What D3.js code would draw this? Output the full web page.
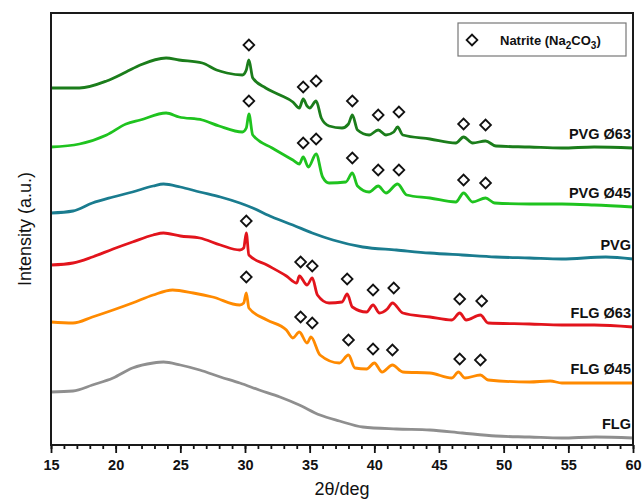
<!DOCTYPE html>
<html>
<head>
<meta charset="utf-8">
<script src="https://cdn.jsdelivr.net/npm/d3@7"></script>
<style>
  html, body { margin: 0; padding: 0; background: #ffffff; }
  svg { display: block; font-family: Arial, "Liberation Sans", sans-serif; }
</style>
</head>
<body>
<svg id="chart" width="643" height="500"></svg>
<script>
// XRD patterns, stacked with vertical offsets (2θ in degrees, intensity in a.u.)
const seriesNames = ["PVG Ø63", "PVG Ø45", "PVG", "FLG Ø63", "FLG Ø45", "FLG"];
const seriesColors = ["#1b7d1b", "#1fc31f", "#1a7c8f", "#e2141c", "#ff8a00", "#8f8f8f"];

const pvg63 = [[15,357],[17.2,357],[19.3,364],[20.8,373],[21.9,380],[23.9,387],[24.9,385],[26.7,382],[27.8,375],[28.6,372],[29.8,370],[30.1,375],[30.3,385],[30.6,367],[31.6,357],[32.7,350],[33.7,343],[34.2,337],[34.5,346],[34.8,339],[35.0,337],[35.5,344],[35.9,327],[36.5,319],[37.5,317],[38.0,321],[38.3,330],[38.7,315],[39.6,310],[40.3,315],[40.9,310],[41.5,313],[41.8,318],[42.2,310],[44.3,306],[46.3,302],[46.9,308],[47.6,302],[48.6,304],[49.4,299],[52,298],[54.5,297],[57,298],[60,297]];
const pvg45 = [[15,298],[17.2,301],[19.3,310],[20.8,321],[21.9,325],[23.9,332],[24.9,328],[26.7,325],[28,319],[29.8,313],[30.1,317],[30.3,331],[30.6,310],[32.1,297],[33.7,285],[34.2,281],[34.5,288],[34.9,278],[35.5,291],[36,268],[36.5,262],[37.8,263],[38.3,272],[38.7,259],[39.6,253],[40.3,259],[40.9,252],[41.8,261],[42.5,250],[44.3,247],[46.3,243],[46.9,252],[47.6,243],[48.6,247],[49.3,242],[52,241],[54.5,241],[57,240],[60,238]];
const pvg = [[15,232],[16.7,234],[18.2,242],[19.8,248],[21.3,253],[22.9,259],[23.7,261],[25,258],[26.5,253],[28.1,248],[29.6,242],[30.6,237],[32.1,228],[33.7,220],[35.2,212],[36.8,205],[39.1,198],[41.7,195],[44.3,192],[46.8,190],[49.4,188],[52,187],[54.5,186],[57.9,188],[60,186]];
const flg63 = [[15,180],[16.7,182],[18.2,188],[19.8,196],[21.3,203],[22.9,210],[23.7,212],[25,209],[26.5,207],[28.1,200],[29.6,195],[29.9,197],[30.1,212],[30.3,190],[31.7,180],[33.2,169],[34,162],[34.2,169],[34.8,160],[35.2,167],[35.6,150],[36.5,142],[37.5,143],[37.9,151],[38.3,138],[39.4,133],[39.9,140],[40.4,132],[41.0,136],[41.4,142],[42.2,132],[44.3,128],[46,125],[46.6,132],[47.1,125],[48.2,130],[48.8,122],[52,121],[54.5,120],[57,120],[60,118]];
const flg45 = [[15,123],[16.7,122],[18.2,128],[19.8,135],[21.3,142],[22.9,150],[24.4,155],[26,152],[27.5,148],[29.6,140],[29.9,142],[30.1,152],[30.3,137],[31.7,125],[33.2,115],[33.7,107],[34.2,113],[34.8,102],[35.1,108],[35.8,90],[37.3,82],[38,90],[38.5,77],[39.4,76],[40,82],[40.6,73],[41.4,80],[42.2,73],[44.3,72],[46,67],[46.5,73],[47,67],[48.2,70],[48.8,65],[52,63],[53.6,64],[54.5,62],[57,62],[60,62]];
const flg = [[15,53],[16.7,54],[18.2,60],[19.8,67],[21.3,77],[22.9,82],[23.7,83],[25,80],[26.5,75],[28.1,68],[29.6,62],[31.1,55],[32.7,48],[34.2,40],[35.8,30],[37.3,24],[39.1,18],[41.7,16],[44.3,15],[46.8,12],[49.4,9],[52,8],[54.5,7],[57.1,8],[60,7]];
const seriesData = [pvg63, pvg45, pvg, flg63, flg45, flg];

// Natrite (Na2CO3) reflection markers, [2θ, intensity]
const natritePVG63 = [[30.3,400],[34.5,358],[35.5,364],[38.3,344],[40.3,330],[41.9,333],[46.9,321],[48.6,320]];
const natritePVG45 = [[30.3,344],[34.5,302],[35.5,306],[38.3,287],[40.3,275],[41.9,275],[46.9,265],[48.6,262]];
const natriteFLG63 = [[30.1,224],[34.3,183],[35.2,179],[37.9,166],[39.9,155],[41.5,157],[46.6,146],[48.3,144]];
const natriteFLG45 = [[30.1,168],[34.3,128],[35.2,122],[38.0,105],[39.9,96],[41.4,95],[46.6,86],[48.2,85]];
const natriteMarks = [natritePVG63, natritePVG45, natriteFLG63, natriteFLG45];

const xMajorTicks = [15, 20, 25, 30, 35, 40, 45, 50, 55, 60];
const xMinorTicks = d3.range(15, 61, 1);

const svg = d3.select("#chart");
const plotLeft = 51, plotRight = 633, plotTop = 13, plotBottom = 445;

const x = d3.scaleLinear().domain([15, 60]).range([plotLeft, plotRight]);
const y = d3.scaleLinear().domain([0, 432]).range([plotBottom, plotTop]);

const line = d3.line()
  .x(d => x(d[0]))
  .y(d => y(d[1]))
  .curve(d3.curveMonotoneX);

// patterns
const plot = svg.append("g");
seriesData.forEach((s, i) => {
  plot.append("path")
    .datum(s)
    .attr("d", line)
    .attr("fill", "none")
    .attr("stroke", seriesColors[i])
    .attr("stroke-width", 2.8)
    .attr("stroke-linejoin", "round");
});

// series labels at the right end of each pattern
seriesData.forEach((s, i) => {
  svg.append("text")
    .attr("x", 631)
    .attr("y", y(s[s.length - 1][1]) - 9)
    .attr("text-anchor", "end")
    .attr("font-size", 14.5)
    .attr("font-weight", "bold")
    .attr("fill", "#111")
    .text(seriesNames[i]);
});

// diamond markers
const diamond = d3.symbol(d3.symbolSquare, 58)();
natriteMarks.forEach(set => {
  svg.append("g").selectAll("path")
    .data(set)
    .join("path")
    .attr("d", diamond)
    .attr("transform", d => `translate(${x(d[0])},${y(d[1])}) rotate(45)`)
    .attr("fill", "#fff")
    .attr("stroke", "#111")
    .attr("stroke-width", 1.8);
});

// x axis with major and minor ticks
const axisG = svg.append("g").attr("transform", `translate(0,${plotBottom})`);
axisG.call(d3.axisBottom(x).tickValues(xMinorTicks).tickSize(4).tickFormat(""));
const majorG = svg.append("g").attr("transform", `translate(0,${plotBottom})`);
majorG.call(d3.axisBottom(x).tickValues(xMajorTicks).tickSize(8).tickPadding(7).tickFormat(d3.format("d")));
[axisG, majorG].forEach(g => {
  g.select(".domain").remove();
  g.selectAll(".tick line").attr("stroke", "#111").attr("stroke-width", 1.8);
});
majorG.selectAll(".tick text")
  .attr("font-size", 14.5)
  .attr("font-weight", "bold")
  .attr("font-family", "Arial, 'Liberation Sans', sans-serif")
  .attr("fill", "#111");

// frame
svg.append("rect")
  .attr("x", plotLeft).attr("y", plotTop)
  .attr("width", plotRight - plotLeft).attr("height", plotBottom - plotTop)
  .attr("fill", "none")
  .attr("stroke", "#1a1a1a")
  .attr("stroke-width", 2);

// axis titles
svg.append("text")
  .attr("x", (plotLeft + plotRight) / 2)
  .attr("y", 495)
  .attr("text-anchor", "middle")
  .attr("font-size", 18)
  .attr("fill", "#111")
  .text("2θ/deg");

svg.append("text")
  .attr("transform", `translate(31,${(plotTop + plotBottom) / 2}) rotate(-90)`)
  .attr("text-anchor", "middle")
  .attr("font-size", 18)
  .attr("fill", "#111")
  .text("Intensity (a.u.)");

// legend
const legend = svg.append("g");
legend.append("rect")
  .attr("x", 458).attr("y", 23)
  .attr("width", 168).attr("height", 33)
  .attr("fill", "#fff")
  .attr("stroke", "#777")
  .attr("stroke-width", 1.2);
legend.append("path")
  .attr("d", diamond)
  .attr("transform", "translate(472,40) rotate(45)")
  .attr("fill", "#fff")
  .attr("stroke", "#111")
  .attr("stroke-width", 1.8);
const lt = legend.append("text")
  .attr("x", 500).attr("y", 45)
  .attr("font-size", 13)
  .attr("font-weight", "bold")
  .attr("fill", "#111");
lt.append("tspan").text("Natrite (Na");
lt.append("tspan").attr("font-size", 10).attr("dy", 4).text("2");
lt.append("tspan").attr("dy", -4).text("CO");
lt.append("tspan").attr("font-size", 10).attr("dy", 4).text("3");
lt.append("tspan").attr("dy", -4).text(")");
</script>
</body>
</html>
